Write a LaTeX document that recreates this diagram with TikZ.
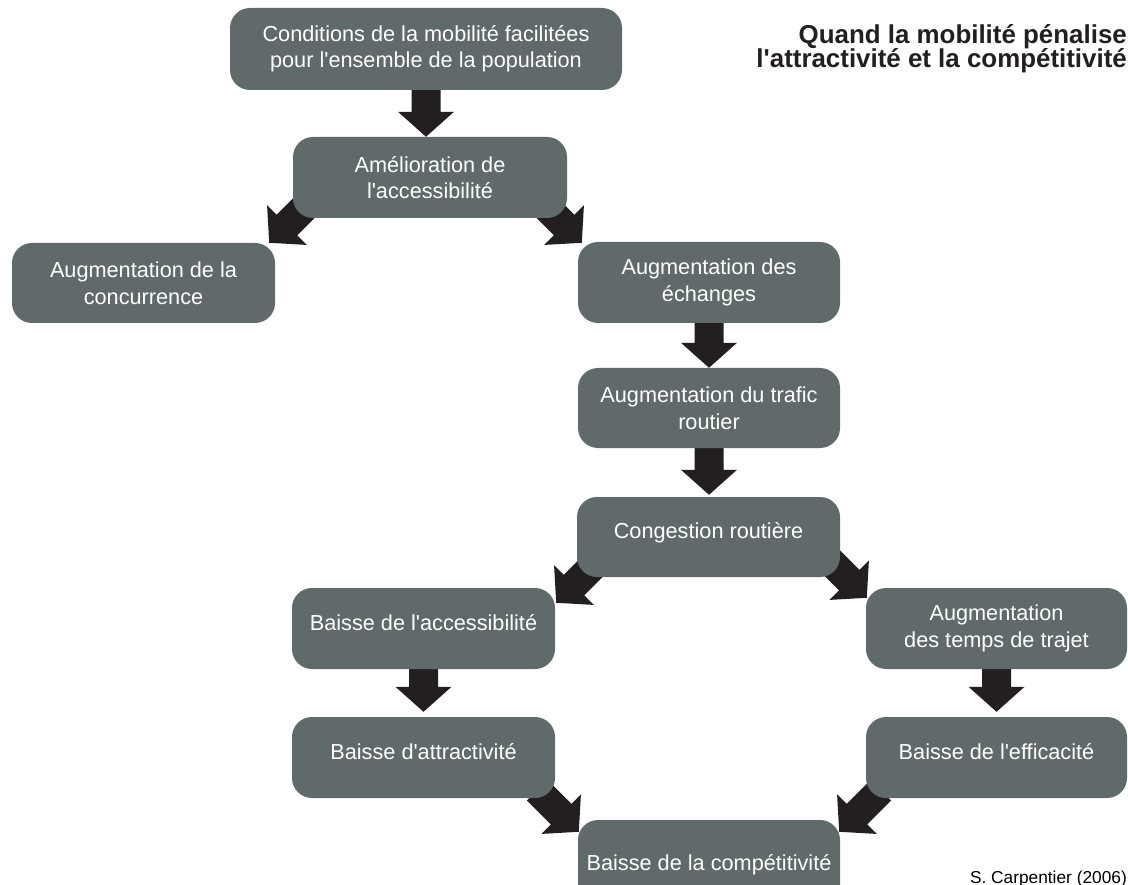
\documentclass[tikz,border=0pt]{standalone}
\usepackage{graphicx}
\usepackage{fontspec}
\setmainfont{Liberation Sans}[Ligatures=TeXOff]
\usetikzlibrary{calc}
\definecolor{boxgray}{HTML}{606A6B}
\definecolor{arrowblack}{HTML}{231F20}
\pgfdeclarelayer{bg}
\pgfsetlayers{bg,main}
% block arrow from point #1 (start, hidden under a box) to point #2 (tip)
\newcommand{\fatarrow}[2]{%
  \fill[arrowblack] let \p1=(#1), \p2=(#2),
    \n1={atan2(\y2-\y1,\x2-\x1)}, \n2={veclen(\x2-\x1,\y2-\y1)} in
    ([shift={(\p2)},rotate=\n1]0,0)
    -- ([shift={(\p2)},rotate=\n1]-25,28)
    -- ([shift={(\p2)},rotate=\n1]-25,14.5)
    -- ([shift={(\p2)},rotate=\n1]-\n2,14.5)
    -- ([shift={(\p2)},rotate=\n1]-\n2,-14.5)
    -- ([shift={(\p2)},rotate=\n1]-25,-14.5)
    -- ([shift={(\p2)},rotate=\n1]-25,-28) -- cycle;}
\begin{document}
\begin{tikzpicture}[x=1pt,y=1pt,
  box/.style={fill=boxgray, draw=none, rounded corners=20pt, text=white, align=center,
    inner sep=0pt, minimum width=262pt, minimum height=81pt,
    font=\fontsize{21.7pt}{26.5pt}\selectfont},
  oneline/.style={text height=16pt, text depth=12.4pt},
  titletext/.style={anchor=base east, inner sep=0pt, text=arrowblack,
    font=\fontsize{25.9pt}{28pt}\selectfont\bfseries},
  credittext/.style={anchor=base east, inner sep=0pt, text=black,
    font=\fontsize{17.3pt}{20pt}\selectfont}]
\useasboundingbox (0,0) rectangle (1128,-885);
\clip (0,0) rectangle (1128,-885);

\node[box, minimum width=392pt, minimum height=82pt] (b1) at (426,-49)
  {Conditions de la mobilité facilitées\\pour l'ensemble de la population};
\node[box, minimum width=274pt] (b2) at (430,-177.5) {Amélioration de\\l'accessibilité};
\node[box, minimum width=263pt, minimum height=80pt] (b3) at (143.5,-283) {Augmentation de la\\concurrence};
\node[box] (b4) at (709,-282.5) {Augmentation des\\échanges};
\node[box, minimum height=80pt] (b5) at (709,-408) {Augmentation du trafic\\routier};
\node[box, oneline, minimum width=263pt, minimum height=80pt] (b6) at (708.5,-537) {Congestion routière};
\node[box, oneline, minimum width=263pt] (b7) at (423.5,-628.5) {Baisse de l'accessibilité};
\node[box, minimum width=261pt] (b8) at (996.5,-628.5) {Augmentation\\des temps de trajet};
\node[box, oneline, minimum width=263pt] (b9) at (423.5,-757.5) {Baisse d'attractivité};
\node[box, oneline, minimum width=261pt] (b10) at (996.5,-757.5) {Baisse de l'efficacité};
\node[box, oneline, minimum height=98pt] (b11) at (709,-869) {Baisse de la compétitivité};

\node[titletext] (t1) at (1127,-44) {Quand la mobilité pénalise};
\node[titletext] (t2) at (1127,-68) {l'attractivité et la compétitivité};
\node[credittext] (credit) at (1127,-883) {S. Carpentier (2006)};

\begin{pgfonlayer}{bg}
  \fill[white] (0,0) rectangle (1128,-885);
  \fatarrow{$(b1.south)+(0,2)$}{b1.south |- b2.north}
  \fatarrow{$(b4.south)+(0,2)$}{b4.south |- b5.north}
  \fatarrow{$(b5.south)+(0,2)$}{$(b5.south |- b6.north)+(0,2)$}
  \fatarrow{$(b7.south)+(0,2)$}{$(b7.south |- b9.north)+(0,5)$}
  \fatarrow{$(b8.south)+(0,2)$}{$(b8.south |- b10.north)+(0,5)$}
  \fatarrow{$(b2.south west)+(18,17)$}{$(b3.north east)+(-6,0)$}
  \fatarrow{$(b2.south east)+(-27,17)$}{$(b4.north west)+(4,-1)$}
  \fatarrow{$(b6.south west)+(21,16)$}{$(b7.north east)+(1,-15)$}
  \fatarrow{$(b6.south east)+(-15,21)$}{$(b8.north west)+(1,-10)$}
  \fatarrow{$(b9.south east)+(-18,8)$}{$(b11.north west)+(1,-12)$}
  \fatarrow{$(b10.south west)+(15,8)$}{$(b11.north east)+(-1,-12)$}
\end{pgfonlayer}
\end{tikzpicture}
\end{document}
